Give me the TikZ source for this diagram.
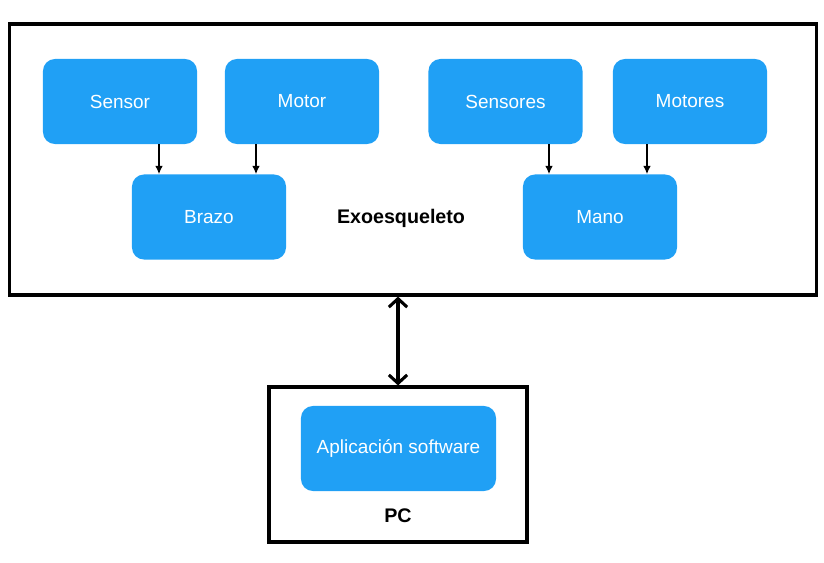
\documentclass[tikz,border=0pt]{standalone}
\usepackage{fontspec}
\setmainfont{Liberation Sans}
\usetikzlibrary{arrows.meta}
\definecolor{boxblue}{RGB}{32,160,245}
\begin{document}
\begin{tikzpicture}[x=0.025cm,y=-0.025cm]
	\tikzstyle{bluebox} = [rectangle,rounded corners=0.3cm,fill=boxblue,text=white,minimum width=3.85cm,minimum height=2.125cm,inner sep=0pt,font=\fontsize{13.5}{16}\selectfont]
	\tikzstyle{frame} = [rectangle,draw=black,line width=2.2pt,inner sep=0pt]
	\tikzstyle{fontbf} = [font=\fontsize{14}{16}\selectfont\bfseries]
	\useasboundingbox (0,0) rectangle (824,562);
	% contenedores
	\node[frame,minimum width=20.15cm,minimum height=6.775cm] (exo) at (413,159.5) {};
	\node[frame,minimum width=6.45cm,minimum height=3.875cm] (pc) at (398,464.5) {};
	% bloques
	\node[bluebox] (sensor) at (120,101.5) {Sensor};
	\node[bluebox] (motor) at (302,101.5) {Motor};
	\node[bluebox] (sensores) at (505.5,101.5) {Sensores};
	\node[bluebox] (motores) at (690,101.5) {Motores};
	\node[bluebox] (brazo) at (209,217) {Brazo};
	\node[bluebox] (mano) at (600,217) {Mano};
	\node[bluebox,minimum width=4.875cm] (app) at (398.5,448.5) {Aplicación software};
	\node[fontbf] (exolabel) at (401,218) {Exoesqueleto};
	\node[fontbf] (pclabel) at (398,516) {PC};
	% flechas
	\coordinate (c1) at (159,0);
	\coordinate (c2) at (256,0);
	\coordinate (c3) at (549,0);
	\coordinate (c4) at (647,0);
	\draw [line width=1pt,-{Latex[length=6pt,width=5.5pt]}](sensor.south -| c1) -- (brazo.north -| c1);
	\draw [line width=1pt,-{Latex[length=6pt,width=5.5pt]}](motor.south -| c2) -- (brazo.north -| c2);
	\draw [line width=1pt,-{Latex[length=6pt,width=5.5pt]}](sensores.south -| c3) -- (mano.north -| c3);
	\draw [line width=1pt,-{Latex[length=6pt,width=5.5pt]}](motores.south -| c4) -- (mano.north -| c4);
	\draw [line width=2.2pt,{Straight Barb[length=6pt,width=13pt]}-{Straight Barb[length=6pt,width=13pt]}](exo.south -| pc.north) -- (pc.north);
\end{tikzpicture}
\end{document}
